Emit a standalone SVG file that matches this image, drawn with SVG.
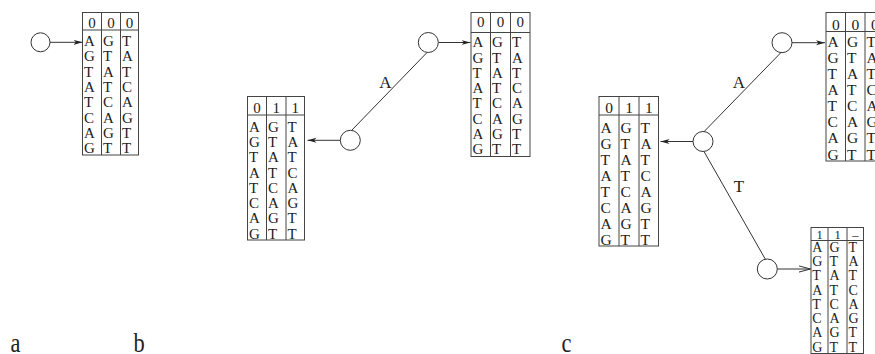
<svg xmlns="http://www.w3.org/2000/svg" width="875" height="354" viewBox="0 0 875 354" font-family="'Liberation Serif', 'DejaVu Serif', serif">
<style>
  text { font-family: "Liberation Serif", "DejaVu Serif", serif; fill: #222; }
  .frame { fill: #fff; stroke: #444; stroke-width: 1; }
  .grid { stroke: #444; stroke-width: 1; fill: none; }
  .node { fill: #fff; stroke: #333; stroke-width: 1; }
  .edge { stroke: #333; stroke-width: 1; fill: none; }
  .hd { text-anchor: middle; }
  .lbl { font-size: 17px; text-anchor: middle; }
  .cap { font-size: 28px; text-anchor: middle; }
</style>
<defs>
  <marker id="dart" markerUnits="userSpaceOnUse" markerWidth="10" markerHeight="6" refX="9" refY="3" orient="auto">
    <path d="M0,0.5 L9,3 L0,5.5 L2.5,3 z" fill="#222"/>
  </marker>
  <marker id="open" markerUnits="userSpaceOnUse" markerWidth="13" markerHeight="8" refX="12" refY="4" orient="auto">
    <path d="M0,0.8 L12,4 L0,7.2" fill="none" stroke="#333" stroke-width="1"/>
  </marker>
</defs>

<g id="connectors">
  <line class="edge" x1="49.5" y1="42.3" x2="82.5" y2="42.3" marker-end="url(#dart)"/>
  <line class="edge" x1="438.3" y1="42.5" x2="470.5" y2="42.5" marker-end="url(#dart)"/>
  <line class="edge" x1="340.3" y1="140.3" x2="307.5" y2="140.3" marker-end="url(#dart)"/>
  <line class="edge" x1="351.5" y1="130.5" x2="427" y2="52.5"/>
  <line class="edge" x1="792" y1="42.7" x2="825" y2="42.7" marker-end="url(#dart)"/>
  <line class="edge" x1="693" y1="141.5" x2="660.5" y2="141.5" marker-end="url(#dart)"/>
  <line class="edge" x1="704" y1="131.7" x2="781" y2="52.5"/>
  <line class="edge" x1="704" y1="151.5" x2="765.5" y2="259.5"/>
  <line class="edge" x1="777.3" y1="269" x2="810.5" y2="269" marker-end="url(#open)"/>
  <text class="lbl" x="385.5" y="87.5">A</text>
  <text class="lbl" x="738.8" y="88">A</text>
  <text class="lbl" x="739" y="192">T</text>
</g>

<g id="node-a-root"><circle class="node" cx="40.5" cy="42.3" r="9.5"/></g>
<g id="node-b-root"><circle class="node" cx="350.3" cy="140.3" r="10"/></g>
<g id="node-b-A"><circle class="node" cx="428.3" cy="42.5" r="10"/></g>
<g id="node-c-root"><circle class="node" cx="703" cy="141.5" r="10"/></g>
<g id="node-c-A"><circle class="node" cx="782" cy="42.7" r="10"/></g>
<g id="node-c-T"><circle class="node" cx="767.3" cy="269" r="10"/></g>

<!-- Table a -->
<g id="table-a">
  <rect class="frame" x="82.5" y="12.5" width="56" height="142.5"/>
  <path class="grid" d="M82.5,30 H138.5 M101.5,12.5 V155 M120.5,12.5 V155"/>
  <text class="hd" font-size="15" y="28"><tspan x="92">0</tspan><tspan x="111">0</tspan><tspan x="129.5">0</tspan></text>
  <text font-size="15"><tspan x="84" y="46">A</tspan><tspan x="84" y="61.3">G</tspan><tspan x="84" y="76.6">T</tspan><tspan x="84" y="91.9">A</tspan><tspan x="84" y="107.2">T</tspan><tspan x="84" y="122.5">C</tspan><tspan x="84" y="137.8">A</tspan><tspan x="84" y="153.1">G</tspan></text>
  <text font-size="15"><tspan x="103" y="46">G</tspan><tspan x="103" y="61.3">T</tspan><tspan x="103" y="76.6">A</tspan><tspan x="103" y="91.9">T</tspan><tspan x="103" y="107.2">C</tspan><tspan x="103" y="122.5">A</tspan><tspan x="103" y="137.8">G</tspan><tspan x="103" y="153.1">T</tspan></text>
  <text font-size="15"><tspan x="122" y="46">T</tspan><tspan x="122" y="61.3">A</tspan><tspan x="122" y="76.6">T</tspan><tspan x="122" y="91.9">C</tspan><tspan x="122" y="107.2">A</tspan><tspan x="122" y="122.5">G</tspan><tspan x="122" y="137.8">T</tspan><tspan x="122" y="153.1">T</tspan></text>
</g>

<!-- Table b right -->
<g id="table-b-A">
  <rect class="frame" x="471" y="12.5" width="59" height="144"/>
  <path class="grid" d="M471,32.5 H530 M490.5,12.5 V156.5 M510.5,12.5 V156.5"/>
  <text class="hd" font-size="15" y="27"><tspan x="480.75">0</tspan><tspan x="500.5">0</tspan><tspan x="520.25">0</tspan></text>
  <text font-size="15"><tspan x="472.5" y="47.3">A</tspan><tspan x="472.5" y="62.5">G</tspan><tspan x="472.5" y="77.8">T</tspan><tspan x="472.5" y="93">A</tspan><tspan x="472.5" y="108.3">T</tspan><tspan x="472.5" y="123.5">C</tspan><tspan x="472.5" y="138.8">A</tspan><tspan x="472.5" y="154">G</tspan></text>
  <text font-size="15"><tspan x="492" y="47.3">G</tspan><tspan x="492" y="62.5">T</tspan><tspan x="492" y="77.8">A</tspan><tspan x="492" y="93">T</tspan><tspan x="492" y="108.3">C</tspan><tspan x="492" y="123.5">A</tspan><tspan x="492" y="138.8">G</tspan><tspan x="492" y="154">T</tspan></text>
  <text font-size="15"><tspan x="512" y="47.3">T</tspan><tspan x="512" y="62.5">A</tspan><tspan x="512" y="77.8">T</tspan><tspan x="512" y="93">C</tspan><tspan x="512" y="108.3">A</tspan><tspan x="512" y="123.5">G</tspan><tspan x="512" y="138.8">T</tspan><tspan x="512" y="154">T</tspan></text>
</g>

<!-- Table b left -->
<g id="table-b-root">
  <rect class="frame" x="247.5" y="96.5" width="57" height="143.5"/>
  <path class="grid" d="M247.5,115 H304.5 M266.5,96.5 V240 M286,96.5 V240"/>
  <text class="hd" font-size="15" y="113"><tspan x="257">0</tspan><tspan x="276.25">1</tspan><tspan x="295.25">1</tspan></text>
  <text font-size="15"><tspan x="249" y="131.7">A</tspan><tspan x="249" y="147">G</tspan><tspan x="249" y="162.2">T</tspan><tspan x="249" y="177.5">A</tspan><tspan x="249" y="192.7">T</tspan><tspan x="249" y="208">C</tspan><tspan x="249" y="223.2">A</tspan><tspan x="249" y="238.5">G</tspan></text>
  <text font-size="15"><tspan x="268" y="131.7">G</tspan><tspan x="268" y="147">T</tspan><tspan x="268" y="162.2">A</tspan><tspan x="268" y="177.5">T</tspan><tspan x="268" y="192.7">C</tspan><tspan x="268" y="208">A</tspan><tspan x="268" y="223.2">G</tspan><tspan x="268" y="238.5">T</tspan></text>
  <text font-size="15"><tspan x="287.5" y="131.7">T</tspan><tspan x="287.5" y="147">A</tspan><tspan x="287.5" y="162.2">T</tspan><tspan x="287.5" y="177.5">C</tspan><tspan x="287.5" y="192.7">A</tspan><tspan x="287.5" y="208">G</tspan><tspan x="287.5" y="223.2">T</tspan><tspan x="287.5" y="238.5">T</tspan></text>
</g>

<!-- Table c left -->
<g id="table-c-root">
  <rect class="frame" x="599" y="96.5" width="59.5" height="149.5"/>
  <path class="grid" d="M599,115 H658.5 M619,96.5 V246 M639,96.5 V246"/>
  <text class="hd" font-size="15.5" y="113.3"><tspan x="609">0</tspan><tspan x="629">1</tspan><tspan x="648.75">1</tspan></text>
  <text font-size="15.5"><tspan x="600.5" y="132.7">A</tspan><tspan x="600.5" y="148.7">G</tspan><tspan x="600.5" y="164.6">T</tspan><tspan x="600.5" y="180.6">A</tspan><tspan x="600.5" y="196.6">T</tspan><tspan x="600.5" y="212.6">C</tspan><tspan x="600.5" y="228.5">A</tspan><tspan x="600.5" y="244.5">G</tspan></text>
  <text font-size="15.5"><tspan x="620.5" y="132.7">G</tspan><tspan x="620.5" y="148.7">T</tspan><tspan x="620.5" y="164.6">A</tspan><tspan x="620.5" y="180.6">T</tspan><tspan x="620.5" y="196.6">C</tspan><tspan x="620.5" y="212.6">A</tspan><tspan x="620.5" y="228.5">G</tspan><tspan x="620.5" y="244.5">T</tspan></text>
  <text font-size="15.5"><tspan x="640.5" y="132.7">T</tspan><tspan x="640.5" y="148.7">A</tspan><tspan x="640.5" y="164.6">T</tspan><tspan x="640.5" y="180.6">C</tspan><tspan x="640.5" y="196.6">A</tspan><tspan x="640.5" y="212.6">G</tspan><tspan x="640.5" y="228.5">T</tspan><tspan x="640.5" y="244.5">T</tspan></text>
</g>

<!-- Table c top -->
<g id="table-c-A">
  <rect class="frame" x="826" y="12.5" width="58.5" height="148.5"/>
  <path class="grid" d="M826,31.5 H884.5 M845.5,12.5 V161 M865,12.5 V161"/>
  <text class="hd" font-size="15.5" y="30"><tspan x="835.75">0</tspan><tspan x="855.25">0</tspan><tspan x="874.75">0</tspan></text>
  <text font-size="15.5"><tspan x="827.5" y="46.7">A</tspan><tspan x="827.5" y="62.8">G</tspan><tspan x="827.5" y="78.9">T</tspan><tspan x="827.5" y="95">A</tspan><tspan x="827.5" y="111.2">T</tspan><tspan x="827.5" y="127.3">C</tspan><tspan x="827.5" y="143.4">A</tspan><tspan x="827.5" y="159.5">G</tspan></text>
  <text font-size="15.5"><tspan x="847" y="46.7">G</tspan><tspan x="847" y="62.8">T</tspan><tspan x="847" y="78.9">A</tspan><tspan x="847" y="95">T</tspan><tspan x="847" y="111.2">C</tspan><tspan x="847" y="127.3">A</tspan><tspan x="847" y="143.4">G</tspan><tspan x="847" y="159.5">T</tspan></text>
  <text font-size="15.5"><tspan x="866.5" y="46.7">T</tspan><tspan x="866.5" y="62.8">A</tspan><tspan x="866.5" y="78.9">T</tspan><tspan x="866.5" y="95">C</tspan><tspan x="866.5" y="111.2">A</tspan><tspan x="866.5" y="127.3">G</tspan><tspan x="866.5" y="143.4">T</tspan><tspan x="866.5" y="159.5">T</tspan></text>
</g>

<!-- Table c bottom -->
<g id="table-c-T">
  <rect class="frame" x="811" y="227.5" width="52.5" height="126"/>
  <path class="grid" d="M811,240.5 H863.5 M828,227.5 V353.5 M847,227.5 V353.5"/>
  <text class="hd" font-size="12.5" y="238.5"><tspan x="819.5">1</tspan><tspan x="837.5">1</tspan><tspan x="855.25">–</tspan></text>
  <text font-size="14"><tspan x="812.3" y="251.7">A</tspan><tspan x="812.3" y="266">G</tspan><tspan x="812.3" y="280.3">T</tspan><tspan x="812.3" y="294.6">A</tspan><tspan x="812.3" y="308.8">T</tspan><tspan x="812.3" y="323.1">C</tspan><tspan x="812.3" y="337.4">A</tspan><tspan x="812.3" y="351.7">G</tspan></text>
  <text font-size="14"><tspan x="829.5" y="251.7">G</tspan><tspan x="829.5" y="266">T</tspan><tspan x="829.5" y="280.3">A</tspan><tspan x="829.5" y="294.6">T</tspan><tspan x="829.5" y="308.8">C</tspan><tspan x="829.5" y="323.1">A</tspan><tspan x="829.5" y="337.4">G</tspan><tspan x="829.5" y="351.7">T</tspan></text>
  <text font-size="14"><tspan x="848.5" y="251.7">T</tspan><tspan x="848.5" y="266">A</tspan><tspan x="848.5" y="280.3">T</tspan><tspan x="848.5" y="294.6">C</tspan><tspan x="848.5" y="308.8">A</tspan><tspan x="848.5" y="323.1">G</tspan><tspan x="848.5" y="337.4">T</tspan><tspan x="848.5" y="351.7">T</tspan></text>
</g>

<g id="captions">
  <text class="cap" transform="translate(15.5,352) scale(0.8,1)">a</text>
  <text class="cap" transform="translate(139,352) scale(0.8,1)">b</text>
  <text class="cap" transform="translate(566.5,352) scale(0.8,1)">c</text>
</g>
</svg>
